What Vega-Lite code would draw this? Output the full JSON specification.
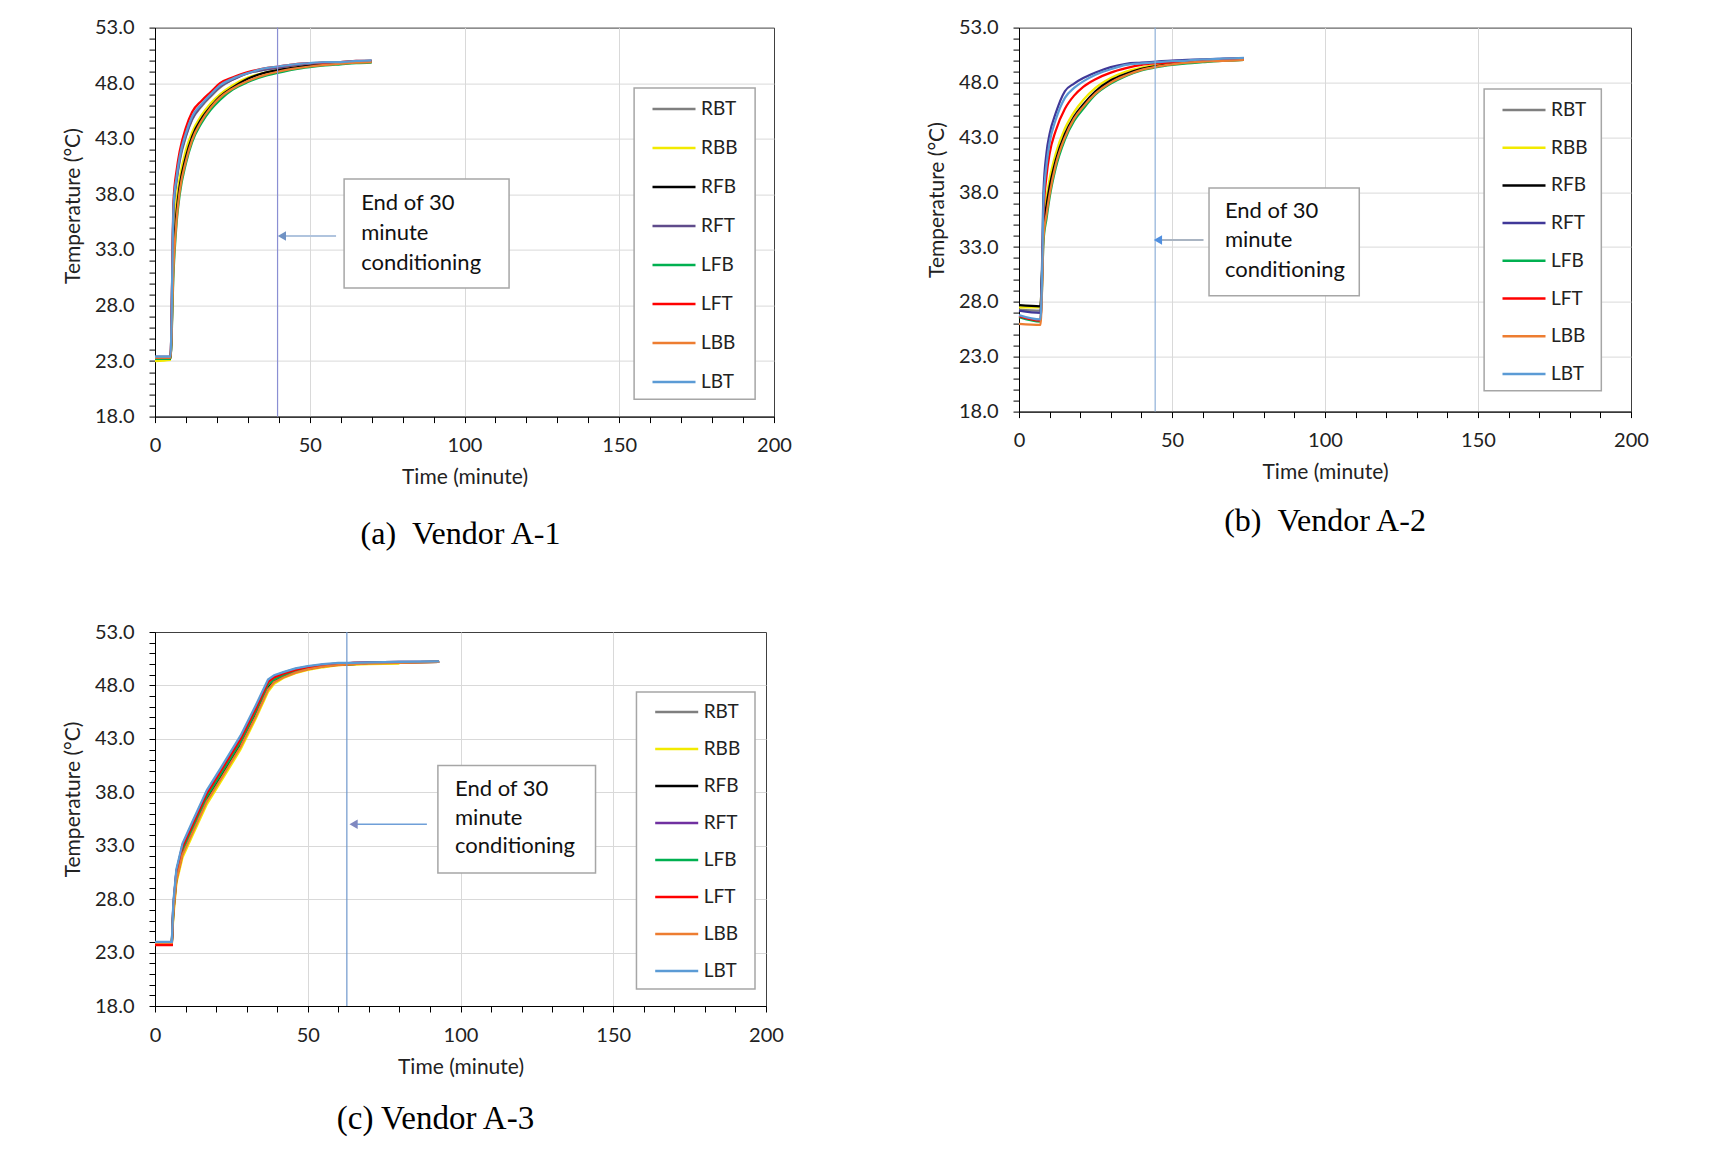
{
  "$schema": "https://vega.github.io/schema/vega-lite/v6.json",
  "autosize": {"type": "none"},
  "padding": {"left": 155, "top": 27.6, "right": 1575, "bottom": 1124.4},
  "background": "white",
  "bounds": "flush",
  "columns": 2,
  "spacing": {"row": 215.4, "column": 245},
  "resolve": {"scale": {"color": "independent"}, "legend": {"color": "independent"}},
  "config": {
    "view": {"stroke": "#404040", "strokeWidth": 1},
    "font": "Lato",
    "axis": {
      "domainColor": "#000000", "domainWidth": 1, "tickColor": "#000000", "tickSize": 6, "tickWidth": 1,
      "labelFont": "Lato", "labelFontSize": 20, "labelColor": "#222222", "labelOverlap": false, "labelFlush": false,
      "titleFont": "Lato", "titleFontSize": 21, "titleFontWeight": "normal", "titleColor": "#222222",
      "gridColor": "#d9d9d9", "gridWidth": 1
    },
    "axisX": {"labelPadding": 13, "titlePadding": 11},
    "axisY": {"labelPadding": 15, "titlePadding": 11},
    "legend": {"title": null, "symbolType": "stroke", "symbolSize": 1849, "symbolStrokeWidth": 2.5, "labelFont": "Lato", "labelFontSize": 19, "labelColor": "#222222", "labelOffset": 4, "padding": 0},
    "title": {"font": "Liberation Serif", "fontSize": 32, "fontWeight": "normal", "color": "#000000", "orient": "bottom", "anchor": "middle"}
  },
  "concat": [
    {
      "width": 619, "height": 389,
      "title": {"text": "(a)\u00a0\u00a0Vendor A-1", "orient": "bottom", "offset": 31, "dx": -4},
      "layer": [
        {
          "data": {"values": [
            {"t": 0, "RBT": 23.3, "RBB": 23.0, "RFB": 23.2, "RFT": 23.4, "LFB": 23.2, "LFT": 23.3, "LBB": 23.3, "LBT": 23.4},
            {"t": 5, "RBT": 23.3, "RBB": 23.1, "RFB": 23.2, "RFT": 23.4, "LFB": 23.2, "LFT": 23.3, "LBB": 23.3, "LBT": 23.4},
            {"t": 6, "RBT": 36.5, "RBB": 34.0, "RFB": 32.5, "RFT": 36.8, "LFB": 31.0, "LFT": 37.5, "LBB": 31.5, "LBT": 37.0},
            {"t": 7, "RBT": 39.2, "RBB": 37.5, "RFB": 36.5, "RFT": 39.4, "LFB": 35.5, "LFT": 40.2, "LBB": 35.8, "LBT": 39.6},
            {"t": 8, "RBT": 41.0, "RBB": 39.5, "RFB": 38.8, "RFT": 41.2, "LFB": 38.0, "LFT": 41.9, "LBB": 38.3, "LBT": 41.4},
            {"t": 10, "RBT": 43.2, "RBB": 42.0, "RFB": 41.4, "RFT": 43.3, "LFB": 40.8, "LFT": 44.0, "LBB": 41.0, "LBT": 43.5},
            {"t": 12, "RBT": 44.7, "RBB": 43.6, "RFB": 43.2, "RFT": 44.8, "LFB": 42.7, "LFT": 45.4, "LBB": 42.9, "LBT": 45.0},
            {"t": 15, "RBT": 45.9, "RBB": 45.1, "RFB": 44.8, "RFT": 46.0, "LFB": 44.4, "LFT": 46.4, "LBB": 44.6, "LBT": 46.1},
            {"t": 18, "RBT": 46.8, "RBB": 46.2, "RFB": 45.9, "RFT": 46.9, "LFB": 45.6, "LFT": 47.2, "LBB": 45.8, "LBT": 47.0},
            {"t": 21, "RBT": 47.6, "RBB": 47.0, "RFB": 46.8, "RFT": 47.7, "LFB": 46.5, "LFT": 48.0, "LBB": 46.7, "LBT": 47.8},
            {"t": 25, "RBT": 48.3, "RBB": 47.8, "RFB": 47.6, "RFT": 48.3, "LFB": 47.4, "LFT": 48.5, "LBB": 47.5, "LBT": 48.4},
            {"t": 30, "RBT": 48.9, "RBB": 48.5, "RFB": 48.4, "RFT": 48.9, "LFB": 48.1, "LFT": 49.0, "LBB": 48.2, "LBT": 48.9},
            {"t": 35, "RBT": 49.2, "RBB": 48.9, "RFB": 48.9, "RFT": 49.2, "LFB": 48.6, "LFT": 49.3, "LBB": 48.7, "LBT": 49.3},
            {"t": 40, "RBT": 49.4, "RBB": 49.2, "RFB": 49.2, "RFT": 49.4, "LFB": 48.95, "LFT": 49.5, "LBB": 49.05, "LBT": 49.5},
            {"t": 45, "RBT": 49.6, "RBB": 49.4, "RFB": 49.4, "RFT": 49.6, "LFB": 49.25, "LFT": 49.7, "LBB": 49.3, "LBT": 49.7},
            {"t": 50, "RBT": 49.75, "RBB": 49.6, "RFB": 49.6, "RFT": 49.75, "LFB": 49.45, "LFT": 49.8, "LBB": 49.5, "LBT": 49.8},
            {"t": 55, "RBT": 49.85, "RBB": 49.7, "RFB": 49.7, "RFT": 49.85, "LFB": 49.6, "LFT": 49.85, "LBB": 49.65, "LBT": 49.9},
            {"t": 60, "RBT": 49.9, "RBB": 49.8, "RFB": 49.8, "RFT": 49.9, "LFB": 49.7, "LFT": 49.9, "LBB": 49.75, "LBT": 49.9},
            {"t": 65, "RBT": 49.95, "RBB": 49.9, "RFB": 49.9, "RFT": 49.95, "LFB": 49.8, "LFT": 50.0, "LBB": 49.85, "LBT": 50.0},
            {"t": 70, "RBT": 50.0, "RBB": 49.95, "RFB": 49.95, "RFT": 50.0, "LFB": 49.85, "LFT": 50.0, "LBB": 49.9, "LBT": 50.05}
          ]},
          "transform": [
            {"fold": ["RBT", "RBB", "RFB", "RFT", "LFB", "LFT", "LBB", "LBT"], "as": ["sensor", "v"]},
            {"filter": "isValid(datum.v)"}
          ],
          "mark": {"type": "line", "strokeWidth": 2.25, "interpolate": "monotone"},
          "encoding": {
            "x": {"field": "t", "type": "quantitative", "scale": {"domain": [0, 200], "nice": false},
              "axis": {"title": "Time (minute)", "tickCount": 25, "values": [0,10,20,30,40,50,60,70,80,90,100,110,120,130,140,150,160,170,180,190,200],
                "labelExpr": "datum.value % 50 === 0 ? datum.label : ''",
                "gridOpacity": {"condition": {"test": "datum.value % 50 === 0 && datum.value > 0 && datum.value < 200", "value": 1}, "value": 0}}},
            "y": {"field": "v", "type": "quantitative", "scale": {"domain": [18, 53], "nice": false, "zero": false},
              "axis": {"title": "Temperature (°C)", "titleY": 178, "tickCount": 40, "values": [18,19,20,21,22,23,24,25,26,27,28,29,30,31,32,33,34,35,36,37,38,39,40,41,42,43,44,45,46,47,48,49,50,51,52,53],
                "labelExpr": "datum.value % 5 === 3 ? format(datum.value, '.1f') : ''",
                "gridOpacity": {"condition": {"test": "datum.value % 5 === 3 && datum.value > 18 && datum.value < 53", "value": 1}, "value": 0}}},
            "color": {"field": "sensor", "type": "nominal",
              "scale": {"domain": ["RBT", "RBB", "RFB", "RFT", "LFB", "LFT", "LBB", "LBT"],
                        "range": ["#7f7f7f", "#f2ea00", "#000000", "#5f4b8b", "#00b050", "#ff0000", "#ed7d31", "#5b9bd5"]},
              "legend": {"orient": "none", "legendX": 496, "legendY": 58.4, "rowPadding": 6}}
          }
        },
        {
          "data": {"values": [{"tl": 39.6, "h1": 41.0, "h2": 58.5, "hv": 34.25, "b1": 61.1, "b2": 114.4, "bv1": 39.38, "bv2": 29.57, "l1": 154.8, "l2": 193.9, "lv1": 47.57, "lv2": 19.57}]},
          "layer": [
            {"mark": {"type": "rect", "fill": "white", "stroke": "#a6a6a6", "strokeWidth": 1.5}, "encoding": {"x": {"field": "l1", "type": "quantitative", "title": "Time (minute)"}, "x2": {"field": "l2"}, "y": {"field": "lv1", "type": "quantitative", "title": "Temperature (°C)"}, "y2": {"field": "lv2"}}},
            {"mark": {"type": "rule", "color": "#8b8fd3", "strokeWidth": 1.2}, "encoding": {"x": {"field": "tl", "type": "quantitative", "title": "Time (minute)"}}},
            {"mark": {"type": "rule", "color": "#b0c4de", "strokeWidth": 2}, "encoding": {"x": {"field": "h1", "type": "quantitative", "title": "Time (minute)"}, "x2": {"field": "h2"}, "y": {"field": "hv", "type": "quantitative", "title": "Temperature (°C)"}}},
            {"mark": {"type": "point", "shape": "triangle-left", "filled": true, "size": 90, "color": "#7092c4", "opacity": 1}, "encoding": {"x": {"field": "h1", "type": "quantitative", "title": "Time (minute)"}, "y": {"field": "hv", "type": "quantitative", "title": "Temperature (°C)"}}},
            {"mark": {"type": "rect", "fill": "white", "stroke": "#a6a6a6", "strokeWidth": 1.5}, "encoding": {"x": {"field": "b1", "type": "quantitative", "title": "Time (minute)"}, "x2": {"field": "b2"}, "y": {"field": "bv1", "type": "quantitative", "title": "Temperature (°C)"}, "y2": {"field": "bv2"}}}
          ]
        },
        {
          "data": {"values": [{"t": 66.6, "v": 37.2, "label": "End of 30"}, {"t": 66.6, "v": 34.5, "label": "minute"}, {"t": 66.6, "v": 31.8, "label": "conditioning"}]},
          "mark": {"type": "text", "align": "left", "baseline": "middle", "font": "Lato", "fontSize": 22, "color": "#111111"},
          "encoding": {"x": {"field": "t", "type": "quantitative", "title": "Time (minute)"}, "y": {"field": "v", "type": "quantitative", "title": "Temperature (°C)"}, "text": {"field": "label"}}
        }
      ]
    },
    {
      "width": 612, "height": 384,
      "title": {"text": "(b)\u00a0\u00a0Vendor A-2", "orient": "bottom", "offset": 23},
      "layer": [
        {
          "data": {"values": [
            {"t": 0, "RBT": 27.3, "RBB": 27.5, "RFB": 27.7, "RFT": 27.2, "LFB": 26.6, "LFT": 26.7, "LBB": 26.0, "LBT": 26.8},
            {"t": 7, "RBT": 27.2, "RBB": 27.5, "RFB": 27.6, "RFT": 27.0, "LFB": 26.2, "LFT": 26.3, "LBB": 25.9, "LBT": 26.4},
            {"t": 7.5, "RBT": 30.0, "RBB": 30.5, "RFB": 30.5, "RFT": 31.0, "LFB": 29.0, "LFT": 29.5, "LBB": 28.8, "LBT": 30.0},
            {"t": 8, "RBT": 34.2, "RBB": 35.0, "RFB": 34.5, "RFT": 38.0, "LFB": 33.5, "LFT": 36.0, "LBB": 33.8, "LBT": 37.0},
            {"t": 9, "RBT": 36.5, "RBB": 37.5, "RFB": 36.8, "RFT": 41.6, "LFB": 35.6, "LFT": 39.5, "LBB": 36.0, "LBT": 40.5},
            {"t": 10, "RBT": 38.3, "RBB": 39.2, "RFB": 38.5, "RFT": 43.3, "LFB": 37.5, "LFT": 41.5, "LBB": 37.8, "LBT": 42.5},
            {"t": 12, "RBT": 40.7, "RBB": 41.5, "RFB": 40.9, "RFT": 45.2, "LFB": 40.2, "LFT": 43.6, "LBB": 40.5, "LBT": 44.6},
            {"t": 15, "RBT": 43.1, "RBB": 43.8, "RFB": 43.3, "RFT": 47.2, "LFB": 42.8, "LFT": 45.6, "LBB": 43.0, "LBT": 46.6},
            {"t": 18, "RBT": 44.7, "RBB": 45.3, "RFB": 44.9, "RFT": 47.9, "LFB": 44.5, "LFT": 46.8, "LBB": 44.7, "LBT": 47.5},
            {"t": 21, "RBT": 45.9, "RBB": 46.4, "RFB": 46.0, "RFT": 48.4, "LFB": 45.6, "LFT": 47.6, "LBB": 45.8, "LBT": 48.1},
            {"t": 25, "RBT": 47.1, "RBB": 47.5, "RFB": 47.2, "RFT": 48.9, "LFB": 46.9, "LFT": 48.3, "LBB": 47.0, "LBT": 48.7},
            {"t": 30, "RBT": 48.1, "RBB": 48.4, "RFB": 48.2, "RFT": 49.4, "LFB": 47.9, "LFT": 48.9, "LBB": 48.0, "LBT": 49.2},
            {"t": 35, "RBT": 48.75, "RBB": 49.0, "RFB": 48.8, "RFT": 49.7, "LFB": 48.6, "LFT": 49.3, "LBB": 48.65, "LBT": 49.6},
            {"t": 40, "RBT": 49.2, "RBB": 49.35, "RFB": 49.25, "RFT": 49.8, "LFB": 49.1, "LFT": 49.6, "LBB": 49.15, "LBT": 49.75},
            {"t": 45, "RBT": 49.5, "RBB": 49.6, "RFB": 49.5, "RFT": 49.9, "LFB": 49.4, "LFT": 49.75, "LBB": 49.45, "LBT": 49.85},
            {"t": 50, "RBT": 49.7, "RBB": 49.75, "RFB": 49.7, "RFT": 50.0, "LFB": 49.6, "LFT": 49.85, "LBB": 49.65, "LBT": 49.95},
            {"t": 55, "RBT": 49.8, "RBB": 49.85, "RFB": 49.85, "RFT": 50.05, "LFB": 49.75, "LFT": 49.95, "LBB": 49.8, "LBT": 50.0},
            {"t": 60, "RBT": 49.9, "RBB": 49.95, "RFB": 49.95, "RFT": 50.1, "LFB": 49.85, "LFT": 50.05, "LBB": 49.9, "LBT": 50.1},
            {"t": 65, "RBT": 50.0, "RBB": 50.05, "RFB": 50.0, "RFT": 50.15, "LFB": 49.95, "LFT": 50.1, "LBB": 49.95, "LBT": 50.15},
            {"t": 70, "RBT": 50.05, "RBB": 50.1, "RFB": 50.05, "RFT": 50.2, "LFB": 50.0, "LFT": 50.15, "LBB": 50.0, "LBT": 50.2},
            {"t": 73.5, "RBT": 50.1, "RBB": 50.1, "RFB": 50.1, "RFT": 50.2, "LFB": 50.05, "LFT": 50.15, "LBB": 50.05, "LBT": 50.25}
          ]},
          "transform": [
            {"fold": ["RBT", "RBB", "RFB", "RFT", "LFB", "LFT", "LBB", "LBT"], "as": ["sensor", "v"]},
            {"filter": "isValid(datum.v)"}
          ],
          "mark": {"type": "line", "strokeWidth": 2.25, "interpolate": "monotone"},
          "encoding": {
            "x": {"field": "t", "type": "quantitative", "scale": {"domain": [0, 200], "nice": false},
              "axis": {"title": "Time (minute)", "tickCount": 25, "values": [0,10,20,30,40,50,60,70,80,90,100,110,120,130,140,150,160,170,180,190,200],
                "labelExpr": "datum.value % 50 === 0 ? datum.label : ''",
                "gridOpacity": {"condition": {"test": "datum.value % 50 === 0 && datum.value > 0 && datum.value < 200", "value": 1}, "value": 0}}},
            "y": {"field": "v", "type": "quantitative", "scale": {"domain": [18, 53], "nice": false, "zero": false},
              "axis": {"title": "Temperature (°C)", "titleY": 172, "tickCount": 40, "values": [18,19,20,21,22,23,24,25,26,27,28,29,30,31,32,33,34,35,36,37,38,39,40,41,42,43,44,45,46,47,48,49,50,51,52,53],
                "labelExpr": "datum.value % 5 === 3 ? format(datum.value, '.1f') : ''",
                "gridOpacity": {"condition": {"test": "datum.value % 5 === 3 && datum.value > 18 && datum.value < 53", "value": 1}, "value": 0}}},
            "color": {"field": "sensor", "type": "nominal",
              "scale": {"domain": ["RBT", "RBB", "RFB", "RFT", "LFB", "LFT", "LBB", "LBT"],
                        "range": ["#7f7f7f", "#f2ea00", "#000000", "#403898", "#00b050", "#ff0000", "#ed7d31", "#5b9bd5"]},
              "legend": {"orient": "none", "legendX": 482, "legendY": 59.4, "rowPadding": 4.7}}
          }
        },
        {
          "data": {"values": [{"tl": 44.5, "h1": 45.4, "h2": 60.3, "hv": 33.65, "b1": 62.1, "b2": 111.2, "bv1": 38.39, "bv2": 28.55, "l1": 152.0, "l2": 190.3, "lv1": 47.41, "lv2": 19.89}]},
          "layer": [
            {"mark": {"type": "rect", "fill": "white", "stroke": "#a6a6a6", "strokeWidth": 1.5}, "encoding": {"x": {"field": "l1", "type": "quantitative", "title": "Time (minute)"}, "x2": {"field": "l2"}, "y": {"field": "lv1", "type": "quantitative", "title": "Temperature (°C)"}, "y2": {"field": "lv2"}}},
            {"mark": {"type": "rule", "color": "#8fb0d8", "strokeWidth": 1.2}, "encoding": {"x": {"field": "tl", "type": "quantitative", "title": "Time (minute)"}}},
            {"mark": {"type": "rule", "color": "#a9b4c2", "strokeWidth": 2}, "encoding": {"x": {"field": "h1", "type": "quantitative", "title": "Time (minute)"}, "x2": {"field": "h2"}, "y": {"field": "hv", "type": "quantitative", "title": "Temperature (°C)"}}},
            {"mark": {"type": "point", "shape": "triangle-left", "filled": true, "size": 90, "color": "#4f8fe0", "opacity": 1}, "encoding": {"x": {"field": "h1", "type": "quantitative", "title": "Time (minute)"}, "y": {"field": "hv", "type": "quantitative", "title": "Temperature (°C)"}}},
            {"mark": {"type": "rect", "fill": "white", "stroke": "#a6a6a6", "strokeWidth": 1.5}, "encoding": {"x": {"field": "b1", "type": "quantitative", "title": "Time (minute)"}, "x2": {"field": "b2"}, "y": {"field": "bv1", "type": "quantitative", "title": "Temperature (°C)"}, "y2": {"field": "bv2"}}}
          ]
        },
        {
          "data": {"values": [{"t": 67.3, "v": 36.29, "label": "End of 30"}, {"t": 67.3, "v": 33.65, "label": "minute"}, {"t": 67.3, "v": 30.91, "label": "conditioning"}]},
          "mark": {"type": "text", "align": "left", "baseline": "middle", "font": "Lato", "fontSize": 22, "color": "#111111"},
          "encoding": {"x": {"field": "t", "type": "quantitative", "title": "Time (minute)"}, "y": {"field": "v", "type": "quantitative", "title": "Temperature (°C)"}, "text": {"field": "label"}}
        }
      ]
    },
    {
      "width": 611, "height": 374,
      "title": {"text": "(c) Vendor A-3", "orient": "bottom", "offset": 26, "dx": -25, "fontSize": 33},
      "layer": [
        {
          "data": {"values": [
            {"t": 0, "RBT": 23.9, "RBB": 23.8, "RFB": 23.75, "RFT": 23.9, "LFB": 23.9, "LFT": 23.7, "LBB": 23.9, "LBT": 24.0},
            {"t": 5.5, "RBT": 23.9, "RBB": 23.8, "RFB": 23.75, "RFT": 23.9, "LFB": 23.9, "LFT": 23.7, "LBB": 23.9, "LBT": 24.0},
            {"t": 6, "RBT": 27.5, "RBB": 26.3, "RFB": 26.8, "RFT": 27.4, "LFB": 27.0, "LFT": 27.3, "LBB": 26.6, "LBT": 27.7},
            {"t": 7, "RBT": 30.6, "RBB": 29.5, "RFB": 29.9, "RFT": 30.6, "LFB": 30.2, "LFT": 30.5, "LBB": 29.7, "LBT": 30.8},
            {"t": 9, "RBT": 33.05, "RBB": 31.9, "RFB": 32.35, "RFT": 33.0, "LFB": 32.6, "LFT": 32.9, "LBB": 32.15, "LBT": 33.2},
            {"t": 12, "RBT": 34.95, "RBB": 33.8, "RFB": 34.25, "RFT": 34.9, "LFB": 34.5, "LFT": 34.8, "LBB": 34.05, "LBT": 35.1},
            {"t": 17, "RBT": 38.05, "RBB": 36.9, "RFB": 37.35, "RFT": 38.0, "LFB": 37.6, "LFT": 37.9, "LBB": 37.15, "LBT": 38.2},
            {"t": 22, "RBT": 40.35, "RBB": 39.2, "RFB": 39.65, "RFT": 40.3, "LFB": 39.9, "LFT": 40.2, "LBB": 39.45, "LBT": 40.5},
            {"t": 28, "RBT": 43.15, "RBB": 42.0, "RFB": 42.45, "RFT": 43.1, "LFB": 42.7, "LFT": 43.0, "LBB": 42.25, "LBT": 43.3},
            {"t": 33, "RBT": 46.0, "RBB": 44.9, "RFB": 45.3, "RFT": 45.95, "LFB": 45.6, "LFT": 45.85, "LBB": 45.1, "LBT": 46.15},
            {"t": 37, "RBT": 48.4, "RBB": 47.4, "RFB": 47.8, "RFT": 48.35, "LFB": 48.05, "LFT": 48.3, "LBB": 47.6, "LBT": 48.55},
            {"t": 39, "RBT": 48.85, "RBB": 48.15, "RFB": 48.4, "RFT": 48.8, "LFB": 48.55, "LFT": 48.75, "LBB": 48.3, "LBT": 48.95},
            {"t": 42, "RBT": 49.2, "RBB": 48.7, "RFB": 48.85, "RFT": 49.15, "LFB": 48.95, "LFT": 49.1, "LBB": 48.75, "LBT": 49.25},
            {"t": 46, "RBT": 49.55, "RBB": 49.15, "RFB": 49.3, "RFT": 49.5, "LFB": 49.35, "LFT": 49.45, "LBB": 49.2, "LBT": 49.6},
            {"t": 50, "RBT": 49.75, "RBB": 49.45, "RFB": 49.55, "RFT": 49.7, "LFB": 49.6, "LFT": 49.7, "LBB": 49.5, "LBT": 49.8},
            {"t": 55, "RBT": 49.95, "RBB": 49.7, "RFB": 49.8, "RFT": 49.95, "LFB": 49.85, "LFT": 49.9, "LBB": 49.75, "LBT": 50.0},
            {"t": 60, "RBT": 50.05, "RBB": 49.9, "RFB": 49.95, "RFT": 50.05, "LFB": 50.0, "LFT": 50.0, "LBB": 49.9, "LBT": 50.1},
            {"t": 65, "RBT": 50.1, "RBB": 49.95, "RFB": 50.0, "RFT": 50.1, "LFB": 50.05, "LFT": 50.1, "LBB": 50.0, "LBT": 50.1},
            {"t": 70, "RBT": 50.15, "RBB": 50.0, "RFB": 50.1, "RFT": 50.15, "LFB": 50.1, "LFT": 50.1, "LBB": 50.05, "LBT": 50.15},
            {"t": 80, "RBT": 50.2, "RBB": 50.05, "RFB": 50.15, "RFT": 50.2, "LFB": 50.15, "LFT": 50.15, "LBB": 50.1, "LBT": 50.2},
            {"t": 93, "RBT": 50.2, "RFB": 50.2, "RFT": 50.2, "LFB": 50.2, "LFT": 50.2, "LBB": 50.2, "LBT": 50.25}
          ]},
          "transform": [
            {"fold": ["RBT", "RBB", "RFB", "RFT", "LFB", "LFT", "LBB", "LBT"], "as": ["sensor", "v"]},
            {"filter": "isValid(datum.v)"}
          ],
          "mark": {"type": "line", "strokeWidth": 2.25, "interpolate": "linear"},
          "encoding": {
            "x": {"field": "t", "type": "quantitative", "scale": {"domain": [0, 200], "nice": false},
              "axis": {"title": "Time (minute)", "tickCount": 25, "values": [0,10,20,30,40,50,60,70,80,90,100,110,120,130,140,150,160,170,180,190,200],
                "labelExpr": "datum.value % 50 === 0 ? datum.label : ''",
                "gridOpacity": {"condition": {"test": "datum.value % 50 === 0 && datum.value > 0 && datum.value < 200", "value": 1}, "value": 0}}},
            "y": {"field": "v", "type": "quantitative", "scale": {"domain": [18, 53], "nice": false, "zero": false},
              "axis": {"title": "Temperature (°C)", "titleY": 167, "tickCount": 40, "values": [18,19,20,21,22,23,24,25,26,27,28,29,30,31,32,33,34,35,36,37,38,39,40,41,42,43,44,45,46,47,48,49,50,51,52,53],
                "labelExpr": "datum.value % 5 === 3 ? format(datum.value, '.1f') : ''",
                "gridOpacity": {"condition": {"test": "datum.value % 5 === 3 && datum.value > 18 && datum.value < 53", "value": 1}, "value": 0}}},
            "color": {"field": "sensor", "type": "nominal",
              "scale": {"domain": ["RBT", "RBB", "RFB", "RFT", "LFB", "LFT", "LBB", "LBT"],
                        "range": ["#7f7f7f", "#f2ea00", "#000000", "#7030a0", "#00b050", "#ff0000", "#ed7d31", "#5b9bd5"]},
              "legend": {"orient": "none", "legendX": 498.7, "legendY": 57, "rowPadding": 4}}
          }
        },
        {
          "data": {"values": [{"tl": 62.8, "h1": 65.0, "h2": 89.0, "hv": 35.0, "b1": 92.6, "b2": 144.2, "bv1": 40.5, "bv2": 30.45, "l1": 157.6, "l2": 196.4, "lv1": 47.39, "lv2": 19.59}]},
          "layer": [
            {"mark": {"type": "rect", "fill": "white", "stroke": "#a6a6a6", "strokeWidth": 1.5}, "encoding": {"x": {"field": "l1", "type": "quantitative", "title": "Time (minute)"}, "x2": {"field": "l2"}, "y": {"field": "lv1", "type": "quantitative", "title": "Temperature (°C)"}, "y2": {"field": "lv2"}}},
            {"mark": {"type": "rule", "color": "#6e97cc", "strokeWidth": 1.2}, "encoding": {"x": {"field": "tl", "type": "quantitative", "title": "Time (minute)"}}},
            {"mark": {"type": "rule", "color": "#6f9fd8", "strokeWidth": 1.5}, "encoding": {"x": {"field": "h1", "type": "quantitative", "title": "Time (minute)"}, "x2": {"field": "h2"}, "y": {"field": "hv", "type": "quantitative", "title": "Temperature (°C)"}}},
            {"mark": {"type": "point", "shape": "triangle-left", "filled": true, "size": 90, "color": "#8088c0", "opacity": 1}, "encoding": {"x": {"field": "h1", "type": "quantitative", "title": "Time (minute)"}, "y": {"field": "hv", "type": "quantitative", "title": "Temperature (°C)"}}},
            {"mark": {"type": "rect", "fill": "white", "stroke": "#a6a6a6", "strokeWidth": 1.5}, "encoding": {"x": {"field": "b1", "type": "quantitative", "title": "Time (minute)"}, "x2": {"field": "b2"}, "y": {"field": "bv1", "type": "quantitative", "title": "Temperature (°C)"}, "y2": {"field": "bv2"}}}
          ]
        },
        {
          "data": {"values": [{"t": 98.2, "v": 38.3, "label": "End of 30"}, {"t": 98.2, "v": 35.6, "label": "minute"}, {"t": 98.2, "v": 32.93, "label": "conditioning"}]},
          "mark": {"type": "text", "align": "left", "baseline": "middle", "font": "Lato", "fontSize": 22, "color": "#111111"},
          "encoding": {"x": {"field": "t", "type": "quantitative", "title": "Time (minute)"}, "y": {"field": "v", "type": "quantitative", "title": "Temperature (°C)"}, "text": {"field": "label"}}
        }
      ]
    }
  ]
}
